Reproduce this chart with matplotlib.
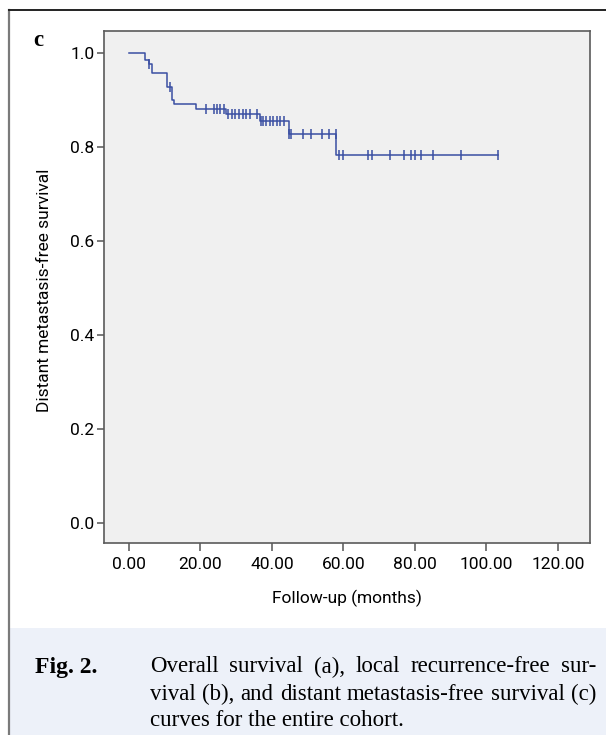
import matplotlib
matplotlib.use("Agg")
import matplotlib.pyplot as plt
import matplotlib.patches as patches
from matplotlib.lines import Line2D
import numpy as np

# Kaplan-Meier steps (time in months, survival after the step)
step_times = [0.0, 4.5, 5.5, 6.4, 10.5, 11.9, 12.6, 18.7, 27.1, 36.6, 44.8, 57.9]
step_surv = [1.0, 0.986, 0.977, 0.958, 0.928, 0.900, 0.891, 0.882, 0.871, 0.856, 0.828, 0.782]

# censored observations (months)
censor_times = [5.5, 11.6, 21.5, 23.7, 24.7, 25.6, 26.6,
                27.7, 28.7, 29.7, 30.8, 31.8, 32.8, 33.8, 35.7,
                36.8, 37.6, 38.4, 39.4, 40.3, 41.3, 42.3, 43.4,
                44.8, 45.4, 48.8, 50.9, 53.9, 55.9,
                57.8, 58.8, 59.9, 67.0, 67.9, 73.0, 76.9, 79.0, 79.9,
                81.8, 85.0, 93.0, 103.2]

x_ticks = [0, 20, 40, 60, 80, 100, 120]
y_ticks = [0.0, 0.2, 0.4, 0.6, 0.8, 1.0]

caption_lines = ["Overall survival (a), local recurrence-free sur-",
                 "vival (b), and distant metastasis-free survival (c)",
                 "curves for the entire cohort."]

line_col = '#3a4fa3'
sans = ['Roboto', 'DejaVu Sans']
serif = ['Liberation Serif', 'DejaVu Serif']
cap_size = 16.5
lab_size = 12.5

fig = plt.figure(figsize=(6.06, 7.35), dpi=100)
fig.patch.set_facecolor('white')

# caption background
fig.patches.append(patches.Rectangle((9/606, 0), 1, 107/735, transform=fig.transFigure,
                                     facecolor='#edf1f9', edgecolor='none', zorder=0))
# outer frame
fig.add_artist(Line2D([9/606, 9/606], [0, 725/735], color='#7a7a7a', lw=1.6))
fig.add_artist(Line2D([9/606, 1.0], [725/735, 725/735], color='#222222', lw=1.4))

ax = fig.add_axes([104/606, 192/735, 486/606, 512/735])
ax.set_facecolor('#f0f0f0')

# survival curve, extended to the last censored time
xs = step_times + [censor_times[-1]]
ys = step_surv + [step_surv[-1]]
ax.step(xs, ys, where='post', color=line_col, lw=1.1)

# censor marks at the curve level
idx = np.searchsorted(step_times, censor_times, side='right') - 1
cy = np.array(step_surv)[idx]
ax.plot(censor_times, cy, ls='none', marker='|', ms=7, mew=1.1, color=line_col)

ax.set_xlim(-7, 129)
ax.set_ylim(-0.043, 1.047)
ax.set_xticks(x_ticks)
ax.set_xticklabels(['%.2f' % v for v in x_ticks], family=sans, fontsize=lab_size)
ax.set_yticks(y_ticks)
ax.set_yticklabels(['%.1f' % v for v in y_ticks], family=sans, fontsize=lab_size)
ax.tick_params(axis='both', direction='out', color='#555555', length=5, width=1.1, pad=2)
ax.tick_params(axis='x', length=6, pad=4)
for s in ax.spines.values():
    s.set_color('#5a5a5a')
    s.set_linewidth(1.2)

fig.text(0.5 * (104 + 590) / 606, 137/735, 'Follow-up (months)', family=sans,
         fontsize=lab_size, ha='center', va='center')
fig.text(45/606, (735 - 290)/735, 'Distant metastasis-free survival', family=sans,
         fontsize=lab_size, rotation=90, ha='center', va='center')
fig.text(38/606, 1 - 41/735, 'c', family=serif, fontsize=cap_size, fontweight='bold',
         ha='center', va='center')

# caption, justified lines
fig.text(35/606, 1 - 667/735, 'Fig. 2.', family=serif, fontsize=cap_size + 0.5,
         fontweight='bold', ha='left', va='center')
renderer = fig.canvas.get_renderer()
left, right = 150/606, 596/606
ys_cap = [1 - 667/735, 1 - 694/735, 1 - 720/735]
for k, (line, yy) in enumerate(zip(caption_lines, ys_cap)):
    if k == len(caption_lines) - 1:
        fig.text(left, yy, line, family=serif, fontsize=cap_size, ha='left', va='center')
        continue
    words = line.split(' ')
    arts = [fig.text(0, yy, w, family=serif, fontsize=cap_size, ha='left', va='center')
            for w in words]
    widths = [a.get_window_extent(renderer).width / fig.bbox.width for a in arts]
    gap = (right - left - sum(widths)) / (len(words) - 1)
    x = left
    for a, w in zip(arts, widths):
        a.set_x(x)
        x += w + gap

fig.savefig('out.png', dpi=100)
